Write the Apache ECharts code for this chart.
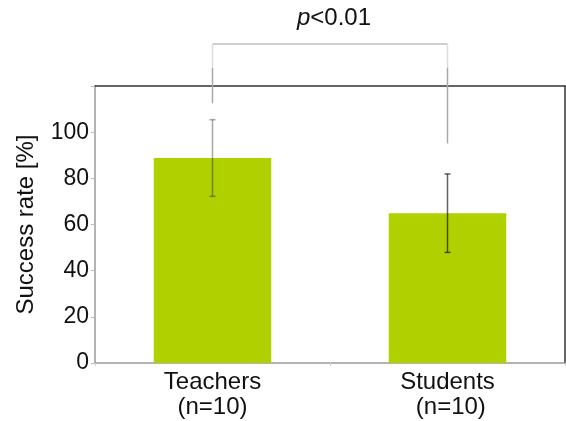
<!DOCTYPE html>
<html>
<head>
<meta charset="utf-8">
<script src="https://cdn.jsdelivr.net/npm/echarts@6/dist/echarts.min.js"></script>
<style>
  html, body { margin: 0; padding: 0; background: #fff; }
  #chart { width: 566px; height: 421px; }
</style>
</head>
<body>
<div id="chart"></div>
<script>
// Groups and their mean success rate with standard deviation
const categories = ['Teachers\n(n=10)', 'Students\n (n=10)'];
const meanRate = [88.8, 64.9];
const sdRate = [16.6, 17.0];
const yTicks = [0, 20, 40, 60, 80, 100];

// Significance bracket (value-axis units): top, split point, and the two leg ends
const bracketTop = [138.2];
const bracketFade = [127.9];
const bracketEnds = [112.5, 95.1];
const pLabel = '{i|p}<0.01';

const FONT = '"Liberation Sans", Arial, sans-serif';
const chart = echarts.init(document.getElementById('chart'), null, { renderer: 'canvas' });

const errorData = categories.map((c, i) => [i, meanRate[i] - sdRate[i], meanRate[i] + sdRate[i]]);
const errorColors = ['rgba(0,0,0,0.35)', 'rgba(0,0,0,0.62)'];

chart.setOption({
  animation: false,
  textStyle: { fontFamily: FONT },
  grid: { left: 95, right: 1, top: 86, bottom: 58, containLabel: false },
  xAxis: [{
    type: 'category',
    data: categories,
    axisLine: { onZero: false, lineStyle: { color: '#9a9a9a', width: 1.5 } },
    axisTick: { show: true, length: 3, lineStyle: { color: '#d0d0d0' } },
    axisLabel: { color: '#111', fontSize: 24, fontFamily: FONT, lineHeight: 25, margin: 7 }
  }, {
    type: 'category',
    position: 'top',
    data: categories,
    axisLine: { onZero: false, lineStyle: { color: '#333', width: 1.5 } },
    axisTick: { show: false },
    axisLabel: { show: false }
  }],
  yAxis: [{
    type: 'value',
    min: 0,
    max: 120,
    interval: 20,
    name: 'Success rate [%]',
    nameLocation: 'middle',
    nameGap: 57,
    nameTextStyle: { color: '#111', fontSize: 24, fontFamily: FONT },
    axisLine: { show: true, onZero: false, lineStyle: { color: '#9a9a9a', width: 1.5 } },
    axisTick: { show: true, length: 4, lineStyle: { color: '#bbb' } },
    axisLabel: {
      color: '#111', fontSize: 23, fontFamily: FONT, margin: 6,
      formatter: v => (yTicks.indexOf(v) >= 0 ? String(v) : '')
    },
    splitLine: { show: false }
  }, {
    type: 'value',
    position: 'right',
    min: 0,
    max: 120,
    axisLine: { show: true, onZero: false, lineStyle: { color: '#333', width: 1.5 } },
    axisTick: { show: false },
    axisLabel: { show: false },
    splitLine: { show: false }
  }],
  series: [{
    type: 'bar',
    data: meanRate,
    barWidth: '50%',
    itemStyle: { color: '#b0d000' },
    z: 2
  }, {
    type: 'custom',
    data: errorData,
    z: 3,
    renderItem: (params, api) => {
      const x = api.value(0);
      const lo = api.coord([x, api.value(1)]);
      const hi = api.coord([x, api.value(2)]);
      const cap = 3;
      const color = errorColors[params.dataIndex];
      const style = { stroke: color, lineWidth: 1.5 };
      return {
        type: 'group',
        children: [
          { type: 'line', shape: { x1: hi[0], y1: hi[1], x2: lo[0], y2: lo[1] }, style },
          { type: 'line', shape: { x1: hi[0] - cap, y1: hi[1], x2: hi[0] + cap, y2: hi[1] }, style },
          { type: 'line', shape: { x1: lo[0] - cap, y1: lo[1], x2: lo[0] + cap, y2: lo[1] }, style }
        ]
      };
    }
  }, {
    type: 'custom',
    data: [[0, 1]],
    clip: false,
    z: 5,
    silent: true,
    renderItem: (params, api) => {
      const a = api.coord([0, bracketTop[0]]);
      const b = api.coord([1, bracketTop[0]]);
      const fadeY = api.coord([0, bracketFade[0]])[1];
      const endL = api.coord([0, bracketEnds[0]])[1];
      const endR = api.coord([1, bracketEnds[1]])[1];
      const light = { stroke: '#dcdcdc', lineWidth: 1.5 };
      const dark = { stroke: '#a8a8a8', lineWidth: 1.5 };
      return {
        type: 'group',
        children: [
          { type: 'line', shape: { x1: a[0], y1: a[1], x2: b[0], y2: b[1] }, style: { stroke: '#9c9c9c', lineWidth: 1 } },
          { type: 'line', shape: { x1: a[0], y1: a[1], x2: a[0], y2: fadeY }, style: light },
          { type: 'line', shape: { x1: b[0], y1: b[1], x2: b[0], y2: fadeY }, style: light },
          { type: 'line', shape: { x1: a[0], y1: fadeY, x2: a[0], y2: endL }, style: dark },
          { type: 'line', shape: { x1: b[0], y1: fadeY, x2: b[0], y2: endR }, style: dark },
          {
            type: 'text',
            style: {
              x: (a[0] + b[0]) / 2 + 4,
              y: a[1] - 26,
              text: pLabel,
              align: 'center',
              verticalAlign: 'middle',
              fill: '#111',
              font: '24px ' + FONT,
              rich: { i: { fontStyle: 'italic', fontSize: 24, fontFamily: FONT, fill: '#111' } }
            }
          }
        ]
      };
    }
  }]
});
</script>
</body>
</html>
